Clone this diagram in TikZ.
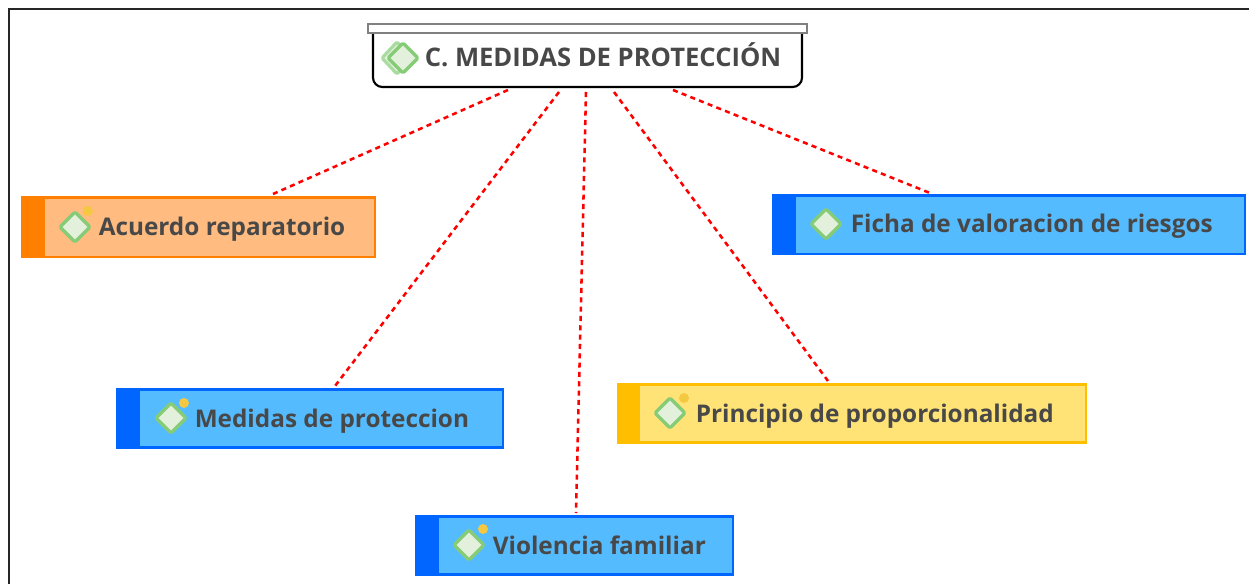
\documentclass[tikz,border=0pt]{standalone}
\usepackage{fontspec}
\setmainfont{Open Sans}
\usetikzlibrary{positioning}
\definecolor{txt}{HTML}{484848}
\definecolor{bluefill}{HTML}{55BBFF}
\definecolor{blueedge}{HTML}{0066FF}
\definecolor{orangefill}{HTML}{FFBB80}
\definecolor{orangeedge}{HTML}{FF7F00}
\definecolor{yellowfill}{HTML}{FFE377}
\definecolor{yellowedge}{HTML}{FFBF00}
\definecolor{icongreen}{HTML}{86CC77}
\definecolor{iconfill}{HTML}{E2F0DC}
\definecolor{dotcol}{HTML}{F5C842}
\tikzset{
  x=0.75pt,y=-0.75pt,
  lab/.style={inner sep=0pt,anchor=base west,text=txt,font=\bfseries\fontsize{18.25}{23}\selectfont},
  rootlab/.style={lab,font=\bfseries\fontsize{19.2}{23}\selectfont},
  link/.style={draw=red,line width=1.9pt,dash pattern=on 3.8pt off 3.2pt},
  topicbox/.style={draw=#1edge,fill=#1fill,line width=1.7pt},
  diam/.style={draw=icongreen,fill=iconfill,line width=2.4pt,line join=round,rounded corners=1pt},
}
% \topic{name}{colour}{x0}{y0}{x1}{y1}{stripe x}{icon cx}{icon cy}
\newcommand{\topic}[9]{%
  \node[topicbox=#2,inner sep=0pt,outer sep=0pt,
    minimum width=(#5-#3-1.5)*0.75pt,minimum height=(#6-#4-1.5)*0.75pt,anchor=north west] (#1) at (#3+1,#4+1) {};
  \fill[#2edge] (#3+1,#4+1) rectangle (#7,#6-0.5);
  \draw[diam] (#8-15,#9) -- (#8,#9-15) -- (#8+15,#9) -- (#8,#9+15) -- cycle;
}
\begin{document}
\begin{tikzpicture}
\useasboundingbox (0,0) rectangle (1249,584);
\fill[white] (0,0) rectangle (1249,584);
\coordinate (fa) at (9,584);
\coordinate (fb) at (9,9.5);
\coordinate (fc) at (1249,9.5);
\draw[black!85,line width=1.5pt] (fa) -- (fb) -- (fc);

% root
\draw[black,line width=1.6pt,fill=white,rounded corners=7pt] (373,28) -- (373,87) -- (802,87) -- (802,28);
\node[draw=black!50,fill=white,line width=1.6pt,inner sep=0pt,outer sep=0pt,minimum width=439*0.75pt,minimum height=9*0.75pt,anchor=north west] (rootbar) at (368,24) {};
\draw[diam,draw=icongreen!70] (382,58) -- (397,42) -- (412,58) -- (397,74) -- cycle;
\draw[diam] (388,58) -- (403,43) -- (418,58) -- (403,73) -- cycle;
\node[rootlab] (root) at (424.5,67) {C. MEDIDAS DE PROTECCIÓN};

% topics
\topic{acuerdo}{orange}{21.5}{196.5}{375.5}{257.5}{45}{75}{227}
\fill[dotcol] (88,211) circle (5);
\node[lab] (acuerdol) at (98.5,236) {Acuerdo reparatorio};

\topic{ficha}{blue}{772.5}{194.5}{1245.5}{254.5}{796}{826}{224}
\node[lab] (fichal) at (850.5,233) {Ficha de valoracion de riesgos};

\topic{medidas}{blue}{116.5}{388.5}{503.5}{448}{140}{171}{418}
\fill[dotcol] (184,403) circle (5);
\node[lab] (medidasl) at (194.5,427) {Medidas de proteccion};

\topic{principio}{yellow}{617.5}{383.5}{1086.5}{443}{640}{670}{413}
\fill[dotcol] (684,398) circle (5);
\node[lab] (principiol) at (695.5,422) {Principio de proporcionalidad};

\topic{violencia}{blue}{415.5}{515.5}{733.5}{575}{439}{469}{545}
\fill[dotcol] (483,529) circle (5);
\node[lab] (violencial) at (492.5,554) {Violencia familiar};

% connector ends
\coordinate (r1) at (508,90);
\coordinate (r2) at (559,92);
\coordinate (r3) at (586,92);
\coordinate (r4) at (614,92);
\coordinate (r5) at (673,90);
\coordinate (e1) at (273,194);
\coordinate (e2) at (335,386);
\coordinate (e3) at (576,513);
\coordinate (e4) at (828,381);
\coordinate (e5) at (930,193);
\draw[link] (r1) -- (e1);
\draw[link] (r2) -- (e2);
\draw[link] (r3) -- (e3);
\draw[link] (r4) -- (e4);
\draw[link] (r5) -- (e5);
\end{tikzpicture}
\end{document}
